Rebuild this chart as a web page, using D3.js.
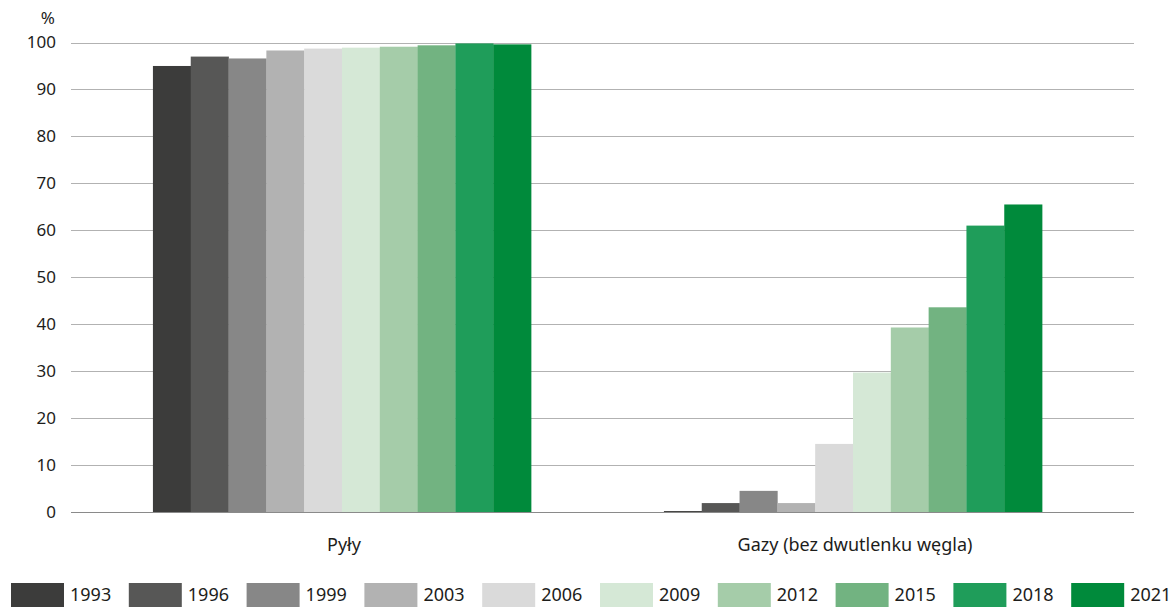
<!DOCTYPE html>
<html>
<head>
<meta charset="utf-8">
<script src="https://cdn.jsdelivr.net/npm/d3@7"></script>
<style>
  body { margin: 0; background: #fff; }
  text { font-family: "Noto Sans", "Open Sans", sans-serif; fill: #1d1d1b; }
</style>
</head>
<body>
<div id="chart"></div>
<script>
// categories and series
var categories = ["Pyły", "Gazy (bez dwutlenku węgla)"];
var years = ["1993", "1996", "1999", "2003", "2006", "2009", "2012", "2015", "2018", "2021"];
var pyly = [95.0, 97.0, 96.6, 98.3, 98.7, 98.9, 99.1, 99.4, 99.8, 99.6];
var gazy = [0.2, 1.9, 4.5, 1.9, 14.5, 29.7, 39.3, 43.6, 61.0, 65.5];
var yTicks = [0, 10, 20, 30, 40, 50, 60, 70, 80, 90, 100];
var colors = ["#3c3c3b", "#575756", "#878787", "#b2b2b2", "#dadada",
              "#d5e8d6", "#a5cca9", "#72b381", "#1f9d5a", "#008a3b"];

var width = 1173, height = 607;
var font = "'Noto Sans', 'Open Sans', sans-serif";

var svg = d3.select("#chart").append("svg")
    .attr("width", width)
    .attr("height", height);

// scales
var x0 = d3.scaleBand()
    .domain(categories)
    .range([86.5, 1108.5])
    .paddingInner(0.26)
    .paddingOuter(0.13);

var x1 = d3.scaleBand()
    .domain(years)
    .range([0, x0.bandwidth()]);

var y = d3.scaleLinear()
    .domain([0, 100])
    .range([512, 42.5]);

var color = d3.scaleOrdinal().domain(years).range(colors);

// gridlines
svg.append("g")
    .selectAll("line")
    .data(yTicks)
    .enter().append("line")
    .attr("x1", 71)
    .attr("x2", 1134)
    .attr("y1", d => Math.round(y(d)) + 0.5)
    .attr("y2", d => Math.round(y(d)) + 0.5)
    .attr("stroke", d => d === 0 ? "#8a8a8a" : "#b2b2b2")
    .attr("stroke-width", 1.2);

// bars
var series = [pyly, gazy];
var groups = svg.append("g")
    .selectAll("g")
    .data(categories)
    .enter().append("g")
    .attr("transform", d => `translate(${x0(d)},0)`);

groups.selectAll("rect")
    .data((d, i) => years.map((yr, j) => ({ year: yr, value: series[i][j] })))
    .enter().append("rect")
    .attr("x", d => x1(d.year))
    .attr("y", d => y(d.value))
    .attr("width", x1.bandwidth() + 0.3)
    .attr("height", d => y(0) - y(d.value))
    .attr("fill", d => color(d.year));

// y axis labels
var yAxis = svg.append("g")
    .attr("transform", "translate(56,0)")
    .call(d3.axisLeft(y).tickValues(yTicks).tickSize(0).tickPadding(0));
yAxis.select(".domain").remove();
yAxis.selectAll("text")
    .style("font-size", "17px")
    .style("font-family", font)
    .attr("fill", "#1d1d1b");

svg.append("text")
    .attr("x", 55)
    .attr("y", 24)
    .attr("text-anchor", "end")
    .style("font-size", "17px")
    .text("%");

// x axis labels
var xAxis = svg.append("g")
    .attr("transform", "translate(0,512)")
    .call(d3.axisBottom(x0).tickSize(0).tickPadding(26));
xAxis.select(".domain").remove();
xAxis.selectAll("text")
    .style("font-size", "18px")
    .style("font-family", font)
    .attr("fill", "#1d1d1b")
    .attr("dx", "2");

// legend
var legend = svg.append("g")
    .selectAll("g")
    .data(years)
    .enter().append("g")
    .attr("transform", (d, i) => `translate(${11 + i * 117.8},583)`);

legend.append("rect")
    .attr("width", 53)
    .attr("height", 24)
    .attr("fill", d => color(d));

legend.append("text")
    .attr("x", 59)
    .attr("y", 18)
    .style("font-size", "18px")
    .text(d => d);
</script>
</body>
</html>
